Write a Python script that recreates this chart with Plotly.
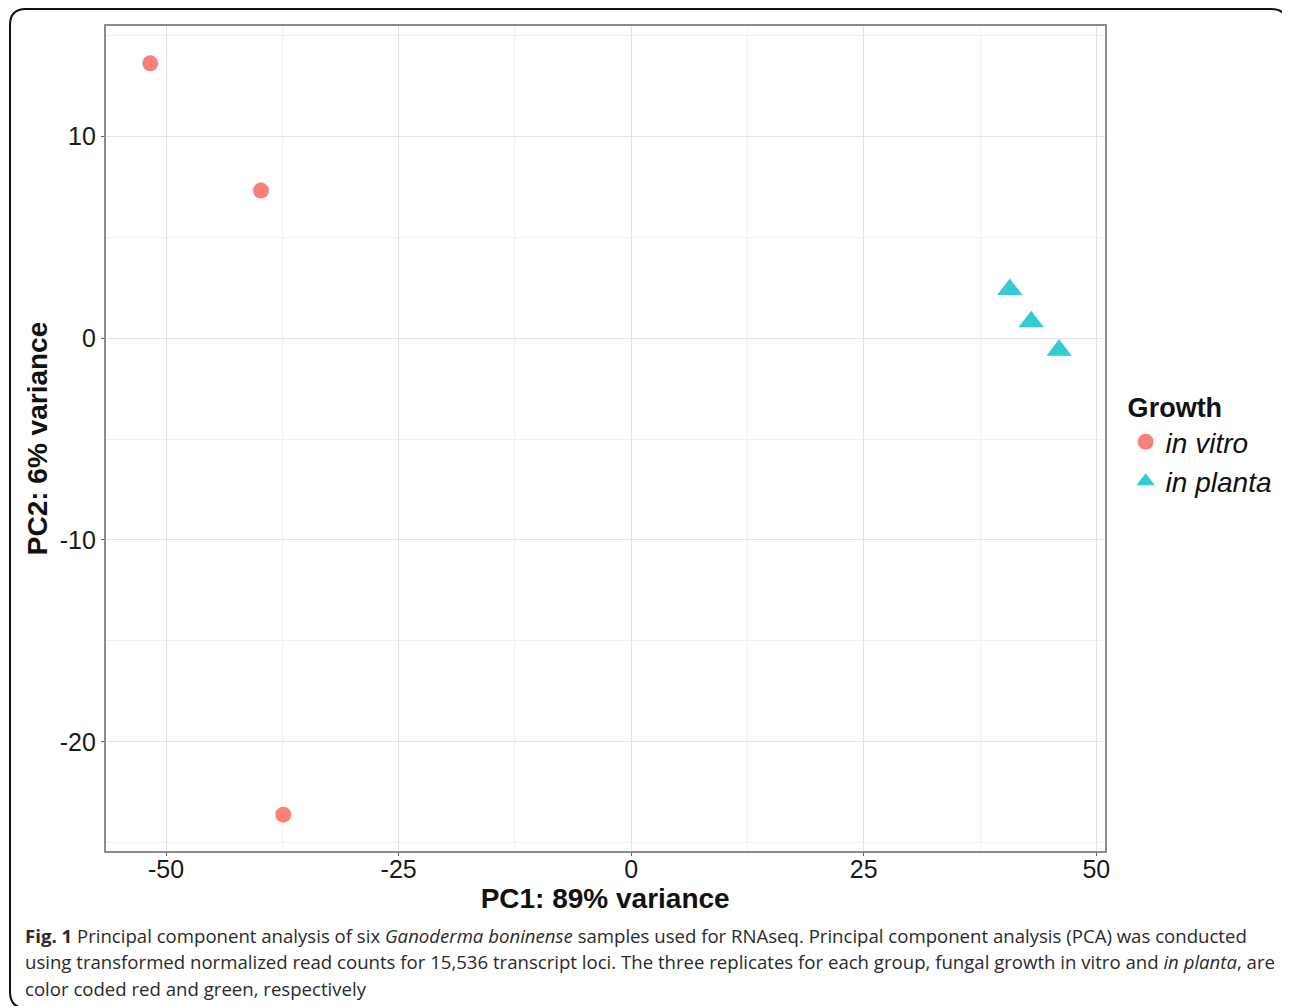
import plotly.graph_objects as go

# Data
vitro_pc1 = [-51.7, -39.8, -37.4]
vitro_pc2 = [13.6, 7.3, -23.6]
planta_pc1 = [40.7, 43.0, 46.0]
planta_pc2 = [2.4, 0.8, -0.6]
group_names = ["<i>in vitro</i>", "<i>in planta</i>"]
x_ticks = [-50, -25, 0, 25, 50]
x_tick_labels = ["-50", "-25", "0", "25", "50"]
y_ticks = [-20, -10, 0, 10]
y_tick_labels = ["-20", "-10", "0", "10"]

# page has an 8px body margin; figure sized to fit the viewport
OFF = 8
W, H = 1290 - OFF, 1006 - OFF


def px(x):
    return (x - OFF) / W


def py(y):
    return 1 - (y - OFF) / H


fig = go.Figure()
fig.add_trace(go.Scatter(x=vitro_pc1, y=vitro_pc2, mode="markers", name=group_names[0],
                         marker=dict(symbol="circle", size=16, color="#F8766D", opacity=0.92)))
fig.add_trace(go.Scatter(x=planta_pc1, y=planta_pc2, mode="markers", name=group_names[1],
                         marker=dict(symbol="triangle-up", size=22, color="#00BFC4", opacity=0.8)))

FONT = "Liberation Sans, Arial"
axis_common = dict(
    showline=True, linecolor="#8c8c8c", linewidth=1.5, mirror=True,
    showgrid=True, gridcolor="#e3e3e3", gridwidth=1,
    zeroline=False, ticks="outside", ticklen=3, tickcolor="#666666",
    tickfont=dict(family=FONT, size=25, color="#1a1a1a"),
)

fig.update_layout(
    width=W, height=H,
    margin=dict(l=0, r=0, t=0, b=0),
    paper_bgcolor="white", plot_bgcolor="white",
    xaxis=dict(**axis_common, range=[-56.5, 50.9], tickvals=x_ticks, ticktext=x_tick_labels,
               domain=[px(106), px(1109)], ticklabelstandoff=-8,
               minor=dict(tickvals=[-37.5, -12.5, 12.5, 37.5], showgrid=True, gridcolor="#f1f1f1", ticks=""),
               title=dict(text="<b>PC1: 89% variance</b>", standoff=0,
                          font=dict(family=FONT, size=28, color="#111111"))),
    yaxis=dict(**axis_common, range=[-25.4, 15.45], tickvals=y_ticks, ticktext=y_tick_labels,
               domain=[py(851), py(26)],
               minor=dict(tickvals=[-25, -15, -5, 5, 15], showgrid=True, gridcolor="#f1f1f1", ticks=""),
               title=dict(text="<b>PC2: 6% variance</b>", standoff=4,
                          font=dict(family=FONT, size=28, color="#111111"))),
    legend=dict(x=px(1130), y=py(382), xanchor="left", yanchor="top",
                title=dict(text="<b>Growth</b>", font=dict(family=FONT, size=27, color="#111111")),
                font=dict(family=FONT, size=28, color="#111111"),
                tracegroupgap=0, itemsizing="trace", bgcolor="rgba(0,0,0,0)"),
    showlegend=True,
)

caption_lines = [
    "<b>Fig. 1</b> Principal component analysis of six <i>Ganoderma boninense</i> samples used for RNAseq. Principal component analysis (PCA) was conducted",
    "using transformed normalized read counts for 15,536 transcript loci. The three replicates for each group, fungal growth in vitro and <i>in planta</i>, are",
    "color coded red and green, respectively",
]
for i, line in enumerate(caption_lines):
    fig.add_annotation(text=line, xref="paper", yref="paper", x=px(23), y=py(935 + 26.5 * i),
                       xanchor="left", yanchor="middle", showarrow=False, align="left",
                       font=dict(family="Open Sans", size=18.6, color="#2a2a2a"))

# rounded frame around the figure (left and top edges visible)
r = 16
x0, y0, x1, y1 = 10, 9, 1292, 1008
path = (f"M {px(x0)},{py(y1 - r)} L {px(x0)},{py(y0 + r)} "
        f"Q {px(x0)},{py(y0)} {px(x0 + r)},{py(y0)} L {px(x1 - r)},{py(y0)} "
        f"Q {px(x1)},{py(y0)} {px(x1)},{py(y0 + r)} "
        f"M {px(x0)},{py(y1 - r)} Q {px(x0)},{py(y1)} {px(x0 + r)},{py(y1)}")
fig.add_shape(type="path", xref="paper", yref="paper", path=path,
              line=dict(color="#111111", width=2))

fig.write_html("out.html")
